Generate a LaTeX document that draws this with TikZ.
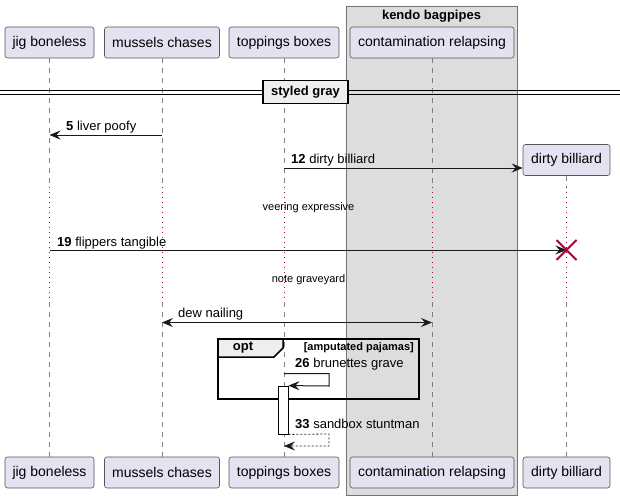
\documentclass[tikz,border=0pt]{standalone}
\usepackage{fontspec}
\setmainfont{Liberation Sans}
\usetikzlibrary{arrows.meta}
\definecolor{partfill}{HTML}{E2E2F0}
\definecolor{partline}{HTML}{555555}
\definecolor{grpfill}{HTML}{DDDDDD}
\definecolor{delayred}{HTML}{A80036}
\definecolor{sepfill}{HTML}{EEEEEE}
\begin{document}
\begin{tikzpicture}[x=1pt,y=-1pt,
 part/.style={draw=partline, fill=partfill, rounded corners=2.5pt, minimum height=31pt, inner sep=0pt, font=\fontsize{14}{16}\selectfont, line width=0.6pt},
 life/.style={draw=gray, dash pattern=on 5pt off 5pt, line width=0.6pt},
 delayline/.style={draw=delayred, dash pattern=on 1pt off 4pt, line width=0.8pt},
 tip/.style={-{Stealth[length=11pt,width=9pt,inset=4pt]}},
 msg/.style={draw=black!90, line width=1pt, tip},
 lbl/.style={font=\fontsize{13}{15}\selectfont, inner sep=0pt, anchor=base west},
 dly/.style={font=\fontsize{11}{13}\selectfont, inner sep=0pt},
 bold13/.style={font=\bfseries\fontsize{13}{15}\selectfont, inner sep=0pt},
 bold11/.style={font=\bfseries\fontsize{11}{13}\selectfont, inner sep=0pt},
]
\useasboundingbox (0,0) rectangle (620,500);
% group box
\draw[fill=grpfill, draw=gray!90!black, line width=0.7pt] (346,6) rectangle (517,495);
\node[bold13, anchor=base] (grpT) at (431.5,20) {kendo bagpipes};
% participants top
\node[part, minimum width=89pt] (jigT) at (49.5,42.5) {jig boneless};
\node[part, minimum width=115pt] (musT) at (162,42.5) {mussels chases};
\node[part, minimum width=110pt] (topT) at (284,42.5) {toppings boxes};
\node[part, minimum width=164pt] (conT) at (432,42.5) {contamination relapsing};
\node[part, minimum width=87pt] (dirT) at (566.5,160) {dirty billiard};
% participants bottom
\node[part, minimum width=89pt] (jigB) at (49.5,472.5) {jig boneless};
\node[part, minimum width=115pt] (musB) at (162,472.5) {mussels chases};
\node[part, minimum width=110pt] (topB) at (284,472.5) {toppings boxes};
\node[part, minimum width=164pt] (conB) at (432,472.5) {contamination relapsing};
\node[part, minimum width=87pt] (dirB) at (566.5,472.5) {dirty billiard};
% lifelines with delay
\foreach \n/\x in {jig/49.5,mus/162,top/284,con/432,dir/566.5}{
  \coordinate (\n D1) at (\x,187);
  \coordinate (\n D2) at (\x,302);
}
\foreach \n in {jig,mus,top,con,dir}{
  \draw[life] (\n T.south) -- (\n D1);
  \draw[delayline] (\n D1) -- (\n D2);
  \draw[life] (\n D2) -- (\n B.north);
}
% separator
\draw[line width=0.9pt] (0,90.5) -- (620,90.5) (0,94.5) -- (620,94.5);
\node[draw=black, line width=1.8pt, fill=sepfill, minimum width=85pt, minimum height=23pt, inner sep=0pt] (sep) at (305.5,92) {};
\node[bold13] at (sep.center) {styled gray};
% message 5
\coordinate (m5a) at (162,135);
\coordinate (m5b) at (49.5,135);
\draw[msg] (m5a) -- (m5b);
\node[lbl] (l5) at (66,130) {\textbf{5} liver poofy};
% message 12
\coordinate (m12a) at (284,168);
\draw[msg] (m12a) -- (dirT.west |- m12a);
\node[lbl] (l12) at (291,163) {\textbf{12} dirty billiard};
% delay 1
\node[dly] (d1) at (308.5,208) {veering expressive};
% message 19
\coordinate (m19a) at (49.5,250);
\coordinate (m19b) at (566.5,250);
\draw[msg] (m19a) -- (m19b);
\draw[delayred, line width=2pt] (556.5,240) -- (576.5,260) (556.5,260) -- (576.5,240);
\node[lbl] (l19) at (57,246) {\textbf{19} flippers tangible};
% delay 2
\node[dly] (d2) at (308.5,280) {note graveyard};
% dew nailing
\coordinate (mda) at (162,322.5);
\coordinate (mdb) at (432,322.5);
\draw[draw=black!90, line width=1pt, {Stealth[length=11pt,width=9pt,inset=4pt]}-{Stealth[length=11pt,width=9pt,inset=4pt]}] (mda) -- (mdb);
\node[lbl] (ld) at (178,317) {dew nailing};
% opt fragment
\fill[sepfill] (218,339) -- (283,339) -- (283,348) -- (274,357) -- (218,357) -- cycle;
\draw[line width=1.5pt] (218,357) -- (274,357) -- (283,348) -- (283,339);
\draw[line width=1.8pt] (218,339) rectangle (419,399);
\node[bold13] (opt) at (243,348) {opt};
\node[bold11, anchor=east] (guard) at (414,348) {[amputated pajamas]};
% activation
\node[draw=black, fill=white, line width=0.8pt, minimum width=10pt, minimum height=48pt, inner sep=0pt] (act) at (283,410) {};
% self message 26
\coordinate (s26a) at (284,373.5);
\coordinate (s26b) at (329,373.5);
\coordinate (s26c) at (329,386);
\draw[draw=black!90, line width=1pt, tip] (s26a) -- (s26b) -- (s26c) -- (act.north east);
\node[lbl] (l26) at (295,367) {\textbf{26} brunettes grave};
% return 33
\coordinate (r33b) at (329,434);
\coordinate (r33c) at (329,446);
\coordinate (r33d) at (284,446);
\draw[draw=black!90, line width=0.8pt, dash pattern=on 2pt off 2pt, tip] (act.south east) -- (r33b) -- (r33c) -- (r33d);
\node[lbl] (l33) at (295,428) {\textbf{33} sandbox stuntman};
\end{tikzpicture}
\end{document}
